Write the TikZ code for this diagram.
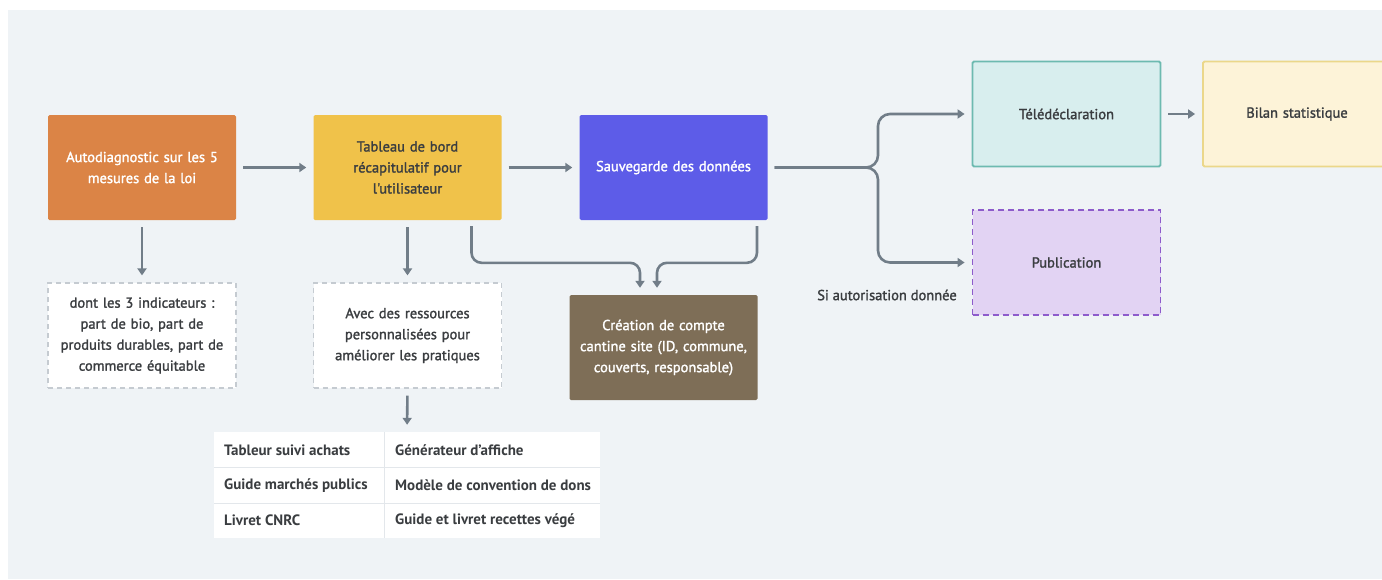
\documentclass[tikz,border=0pt]{standalone}
\usepackage{fontspec}
\setmainfont{PT Sans}
\newfontfamily\medfont[FakeBold=1.6]{PT Sans}
\usetikzlibrary{arrows.meta,calc}
\definecolor{bg}{HTML}{EFF3F6}
\definecolor{conn}{HTML}{717D88}
\definecolor{txt}{HTML}{3A3D40}
\definecolor{orangeb}{HTML}{DB8446}
\definecolor{yellowb}{HTML}{F0C24A}
\definecolor{blueb}{HTML}{5D5CE8}
\definecolor{brownb}{HTML}{7E6E57}
\definecolor{tealf}{HTML}{D8EEEE}
\definecolor{teald}{HTML}{6DBAB0}
\definecolor{creamf}{HTML}{FDF3D8}
\definecolor{creamd}{HTML}{EBD78A}
\definecolor{purplef}{HTML}{E2D3F3}
\definecolor{purpled}{HTML}{8D5BCB}
\definecolor{dashg}{HTML}{C5CBD1}
\definecolor{tline}{HTML}{E3E7EB}
\tikzset{
  box/.style={rectangle, minimum width=186pt, minimum height=105pt, align=center,
    font=\medfont\fontsize{14.5}{21}\selectfont, inner sep=4pt, text width=180pt},
  solidbox/.style={box, draw=none, rounded corners=1.5pt},
  notebox/.style={box, fill=white, draw=dashg, line width=1.2pt, dash pattern=on 5pt off 4pt, text=txt},
  conn/.style={draw=conn, line width=2.6pt, -{Triangle[length=7pt,width=9pt]}},
  gap/.style={shorten <=7pt, shorten >=7pt},
  cell/.style={anchor=west, font=\bfseries\fontsize{15}{16}\selectfont, text=txt, inner sep=0pt},
}
\begin{document}
\begin{tikzpicture}[x=1pt,y=-1pt]
\useasboundingbox (0,0) rectangle (1382,579);
\fill[white] (0,0) rectangle (1382,579);
\fill[bg] (8,10) rectangle (1382,579);

\node[solidbox, fill=orangeb, text=white] (auto) at (142,167.5) {Autodiagnostic sur les 5\\mesures de la loi};
\node[solidbox, fill=yellowb, text=txt] (tab) at (407.5,167.5) {Tableau de bord\\récapitulatif pour\\l'utilisateur};
\node[solidbox, fill=blueb, text=white] (sauv) at (673.5,167.5) {Sauvegarde des données};
\node[box, fill=tealf, draw=teald, line width=1.8pt, rounded corners=1.5pt, text=txt] (tele) at (1066.5,114) {Télédéclaration};
\node[box, fill=creamf, draw=creamd, line width=1.8pt, rounded corners=1.5pt, text=txt] (bilan) at (1297,114) {Bilan statistique};
\node[box, fill=purplef, draw=purpled, line width=1.8pt, dash pattern=on 6pt off 4pt, text=txt] (pub) at (1066.5,262.5) {Publication};
\node[font=\medfont\fontsize{14.5}{16}\selectfont, text=txt] (si) at (887,295) {Si autorisation donnée};

\node[notebox] (dont) at (142,335.5) {dont les 3 indicateurs :\\part de bio, part de\\produits durables, part de\\commerce équitable};
\node[notebox] (avec) at (407.5,335.5) {Avec des ressources\\personnalisées pour\\améliorer les pratiques};
\node[solidbox, fill=brownb, text=white] (crea) at (663.5,347.5) {Création de compte\\cantine site (ID, commune,\\couverts, responsable)};

% resource table
\node[rectangle, fill=white, minimum width=386pt, minimum height=106pt, inner sep=0pt] (tbl) at (407,485) {};
\draw[tline, line width=1pt] (384,432) -- (384,538);
\draw[tline, line width=1pt] (214,467.5) -- (600,467.5);
\draw[tline, line width=1pt] (214,503) -- (600,503);
\node[cell] (c11) at (224,450) {Tableur suivi achats};
\node[cell] (c12) at (395,450) {Générateur d'affiche};
\node[cell] (c21) at (224,485.5) {Guide marchés publics};
\node[cell] (c22) at (395,485.5) {Modèle de convention de dons};
\node[cell] (c31) at (224,520.5) {Livret CNRC};
\node[cell] (c32) at (395,520.5) {Guide et livret recettes végé};

% connectors
\draw[conn, gap] (auto.east) -- (tab.west);
\draw[conn, gap] (tab.east) -- (sauv.west);
\draw[conn, gap] (auto.south) -- (dont.north);
\draw[conn, gap] (tab.south) -- (avec.north);
\draw[conn, gap] (avec.south) -- (tbl.north);
\draw[conn, gap] (tele.east) -- (bilan.west);
\draw[conn, rounded corners=10pt] ([xshift=64pt,yshift=-6pt]tab.south) |- ([xshift=-23.5pt,yshift=32pt]crea.north) -- ([xshift=-23.5pt,yshift=7pt]crea.north);
\draw[conn, rounded corners=10pt] ([xshift=83.5pt,yshift=-6pt]sauv.south) |- ([xshift=-6.5pt,yshift=32pt]crea.north) -- ([xshift=-6.5pt,yshift=7pt]crea.north);
\coordinate (split) at (878,167.5);
\draw[conn, rounded corners=12pt, shorten >=7pt] ([xshift=7pt]sauv.east) -- (split) |- (tele.west);
\draw[conn, rounded corners=12pt, shorten >=7pt] ([xshift=7pt]sauv.east) -- (split) |- (pub.west);
\end{tikzpicture}
\end{document}
